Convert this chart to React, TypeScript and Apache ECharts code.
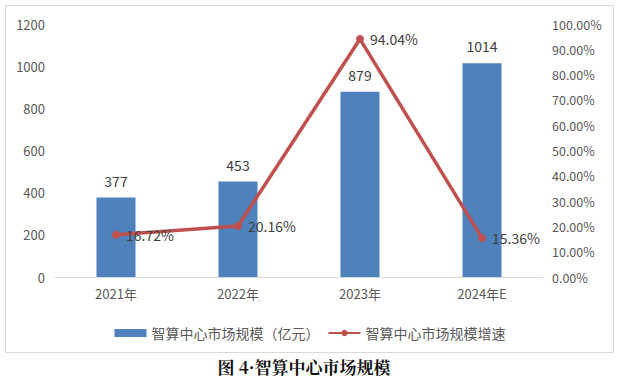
import React, { useEffect, useRef } from "react";
import * as echarts from "echarts";

const categories = ["2021年", "2022年", "2023年", "2024年E"];
const marketSize = [377, 453, 879, 1014];
const growthRate = [16.72, 20.16, 94.04, 15.36];
const seriesNames = ["智算中心市场规模（亿元）", "智算中心市场规模增速"];
const figureTitle = "图 4·智算中心市场规模";

const FONT = "'Noto Sans CJK SC', 'Microsoft YaHei', sans-serif";

export default function App() {
  const ref = useRef<HTMLDivElement>(null);
  useEffect(() => {
    document.body.style.margin = "0";
    if (!ref.current) return;
    const chart = echarts.init(ref.current, null, { renderer: "svg" });
    chart.setOption({
      animation: false,
      backgroundColor: "#ffffff",
      textStyle: { fontFamily: FONT },
      grid: { left: 55, right: 77, top: 24, bottom: 109 },
      legend: {
        data: [
          { name: seriesNames[0], icon: "rect" },
          { name: seriesNames[1] },
        ],
        top: 321,
        left: "center",
        itemWidth: 32,
        itemHeight: 8,
        itemGap: 8,
        textStyle: { color: "#595959", fontSize: 14, fontFamily: FONT },
      },
      xAxis: {
        type: "category",
        data: categories,
        axisLine: { lineStyle: { color: "#d9d9d9", width: 1 } },
        axisTick: { show: false },
        axisLabel: { color: "#595959", fontSize: 13, margin: 10, fontFamily: FONT },
      },
      yAxis: [
        {
          type: "value",
          min: 0,
          max: 1200,
          interval: 200,
          splitLine: { show: false },
          axisLine: { show: false },
          axisTick: { show: false },
          axisLabel: {
            color: "#595959",
            fontSize: 13,
            margin: 10,
            fontFamily: FONT,
            formatter: (v: number) => String(v),
          },
        },
        {
          type: "value",
          min: 0,
          max: 100,
          interval: 10,
          splitLine: { show: false },
          axisLine: { show: false },
          axisTick: { show: false },
          axisLabel: {
            color: "#595959",
            fontSize: 12.5,
            margin: 9,
            fontFamily: FONT,
            formatter: (v: number) => v.toFixed(2) + "%",
          },
        },
      ],
      series: [
        {
          name: seriesNames[0],
          type: "bar",
          data: marketSize,
          barWidth: "32%",
          itemStyle: { color: "#4F81BD" },
          label: {
            show: true,
            position: "top",
            distance: 10,
            color: "#404040",
            fontSize: 14,
            fontFamily: FONT,
          },
        },
        {
          name: seriesNames[1],
          type: "line",
          yAxisIndex: 1,
          data: growthRate,
          symbol: "circle",
          symbolSize: 8,
          lineStyle: { color: "#C0504D", width: 3.5 },
          itemStyle: { color: "#C0504D" },
          label: {
            show: true,
            position: "right",
            distance: 6,
            color: "#404040",
            fontSize: 14,
            fontFamily: FONT,
            formatter: (p: any) => p.value.toFixed(2) + "%",
          },
        },
      ],
      graphic: [
        {
          type: "rect",
          shape: { x: 5.5, y: 5.5, width: 608, height: 347 },
          style: { fill: "none", stroke: "#d9d9d9", lineWidth: 1 },
          silent: true,
        },
        {
          type: "text",
          x: 304,
          y: 366,
          style: {
            text: figureTitle,
            fill: "#111111",
            font: "bold 17px 'Noto Serif CJK SC', 'Noto Sans CJK SC', serif",
            align: "center",
            verticalAlign: "middle",
          },
        },
      ],
    });
    return () => chart.dispose();
  }, []);
  return <div ref={ref} style={{ width: 620, height: 386 }} />;
}
